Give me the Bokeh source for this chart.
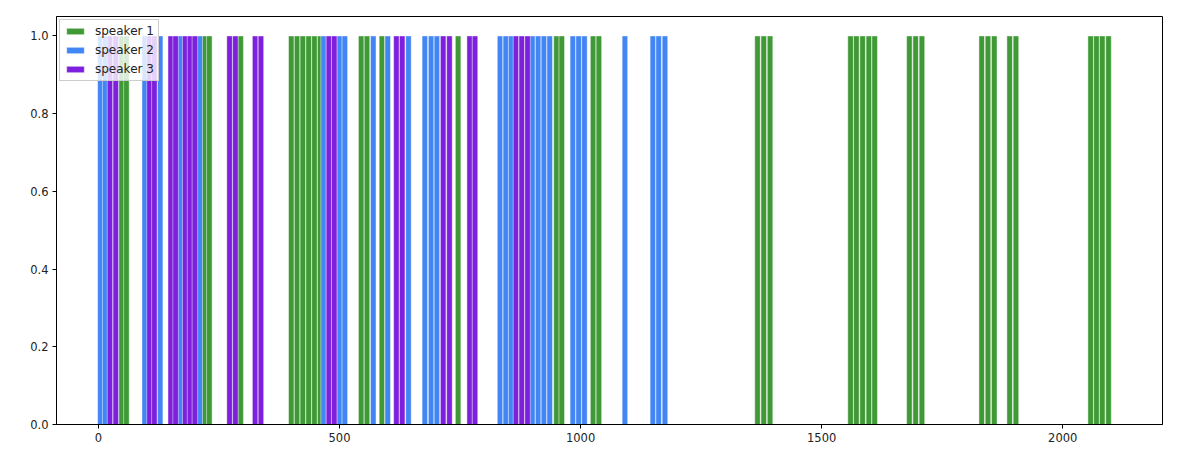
from bokeh.plotting import figure
from bokeh.models import ColumnDataSource, Range1d, FixedTicker, Legend, LegendItem, CustomJSTickFormatter
from bokeh.embed import file_html
from bokeh.resources import INLINE

# --- data (bar centres, height 1) ---
speaker1_x = [48, 58, 220, 230, 295, 400, 412, 424, 436, 448, 460, 545, 557, 588,
              746, 950, 961, 1026, 1038, 1367, 1380, 1393, 1560, 1572, 1585, 1598,
              1610, 1682, 1695, 1708, 1832, 1845, 1858, 1890, 1903, 2058, 2070, 2082, 2095]
speaker2_x = [4, 14, 96, 128, 170, 210, 467, 500, 511, 570, 600, 643, 677, 690, 702,
              833, 845, 856, 900, 912, 924, 936, 984, 996, 1008, 1092, 1150, 1162, 1175]
speaker3_x = [24, 36, 106, 116, 150, 160, 180, 190, 200, 272, 284, 325, 337, 478, 489,
              618, 630, 715, 728, 770, 781, 866, 878, 890]
labels = ["speaker 1", "speaker 2", "speaker 3"]
colors = ["#3f9a36", "#4285f4", "#7d1fdc"]
series = [speaker1_x, speaker2_x, speaker3_x]
x_ticks = [0, 500, 1000, 1500, 2000]
y_ticks = [0.0, 0.2, 0.4, 0.6, 0.8, 1.0]

p = figure(width=1176, height=446, output_backend="svg", toolbar_location=None,
           x_range=Range1d(-87, 2207), y_range=Range1d(0, 1.05),
           min_border_left=56, min_border_top=16, min_border_right=14, min_border_bottom=22)
p.frame_width = 1106
p.frame_height = 408

items = []
for xs, lab, col in zip(series, labels, colors):
    src = ColumnDataSource(dict(x=xs, top=[1.0] * len(xs)))
    r = p.vbar(x="x", top="top", bottom=0, width=11.5, source=src,
               fill_color=col, line_color="white", line_alpha=0.45, line_width=1)
    items.append(LegendItem(label=lab, renderers=[r]))

legend = Legend(items=items, location="top_left", glyph_width=22, glyph_height=8,
                label_height=13, spacing=5, padding=4, margin=3,
                label_text_font="DejaVu Sans", label_text_font_size="12px",
                label_text_color="#222222",
                label_standoff=9, border_line_color="#cccccc", border_line_alpha=1,
                background_fill_alpha=0.8)
p.add_layout(legend)

p.xgrid.visible = False
p.ygrid.visible = False
p.outline_line_color = "black"
p.outline_line_width = 1
p.outline_line_alpha = 1

p.xaxis.ticker = FixedTicker(ticks=x_ticks)
p.yaxis.ticker = FixedTicker(ticks=y_ticks)
p.yaxis.formatter = CustomJSTickFormatter(code="return tick.toFixed(1);")
for ax in (p.xaxis, p.yaxis):
    ax.major_label_text_font = "DejaVu Sans"
    ax.major_label_text_font_size = "11.5px"
    ax.major_label_text_color = "#222222"
    ax.minor_tick_line_color = None
    ax.major_tick_out = 4
    ax.major_tick_in = 0
    ax.axis_line_color = "black"
    ax.major_tick_line_color = "black"
    ax.major_label_standoff = 4

open("out.html", "w").write(file_html(p, INLINE))
